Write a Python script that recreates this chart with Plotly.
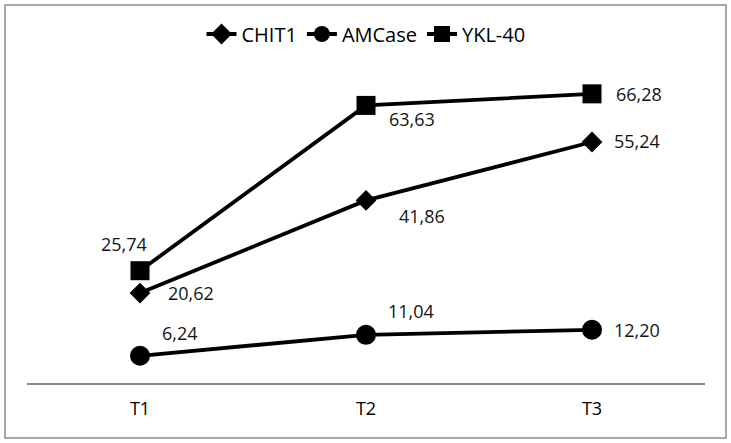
import plotly.graph_objects as go

categories = ["T1", "T2", "T3"]
chit1 = [20.62, 41.86, 55.24]
amcase = [6.24, 11.04, 12.20]
ykl40 = [25.74, 63.63, 66.28]

series_names = ["CHIT1", "AMCase", "YKL-40"]
series_values = [chit1, amcase, ykl40]

# styling (not data)
symbols = {"CHIT1": "diamond", "AMCase": "circle", "YKL-40": "square"}
msizes = {"CHIT1": 16, "AMCase": 20, "YKL-40": 19}
# label offsets: (xanchor, xshift, yshift)
label_offsets = {
    "CHIT1": [("left", 26, 0), ("left", 31, -16), ("left", 20, 1)],
    "AMCase": [("left", 20, 23), ("left", 20, 24), ("left", 20, 0)],
    "YKL-40": [("center", -16, 27), ("left", 21, -14), ("left", 22, 0)],
}

FONT = "Open Sans"
fig = go.Figure()
annotations = []
for name, vals in zip(series_names, series_values):
    fig.add_trace(go.Scatter(
        x=categories, y=vals, name=name, mode="lines+markers",
        line=dict(color="black", width=3.8),
        marker=dict(symbol=symbols[name], size=msizes[name], color="black"),
    ))
    for c, v, (xa, xs, ys) in zip(categories, vals, label_offsets[name]):
        annotations.append(dict(
            x=c, y=v, xref="x", yref="y", text=f"{v:.2f}".replace(".", ","),
            showarrow=False, xanchor=xa, yanchor="middle", xshift=xs, yshift=ys,
            font=dict(family=FONT, size=18, color="#141414"),
        ))

L, R, T, B = 27, 26, 34, 60
W, H = 731, 443
pw, ph = W - L - R, H - T - B
bx0 = (5 - L) / pw
bx1 = (726 - L) / pw
by1 = ((H - B) - 5) / ph
by0 = ((H - B) - 438) / ph

fig.update_layout(
    width=W, height=H,
    margin=dict(l=L, r=R, t=T, b=B),
    paper_bgcolor="white", plot_bgcolor="white",
    font=dict(family=FONT, size=18, color="black"),
    showlegend=True,
    legend=dict(orientation="h", x=0.5, xanchor="center", y=1.0, yanchor="middle",
                font=dict(family=FONT, size=20, color="black"),
                itemwidth=30, bgcolor="rgba(0,0,0,0)", tracegroupgap=0),
    xaxis=dict(type="category", range=[-0.5, 2.5], showgrid=False, zeroline=False,
               showline=True, linecolor="#888888", linewidth=1.5, ticks="",
               ticklabelstandoff=9,
               tickfont=dict(family=FONT, size=18, color="black"), fixedrange=True),
    yaxis=dict(range=[0, 80], showgrid=False, zeroline=False, showline=False,
               showticklabels=False, ticks="", fixedrange=True),
    annotations=annotations,
    shapes=[dict(type="rect", xref="paper", yref="paper", x0=bx0, x1=bx1, y0=by0, y1=by1,
                 line=dict(color="#8c8c8c", width=1.5), fillcolor="rgba(0,0,0,0)", layer="below")],
)

fig.write_html("out.html", config={"displayModeBar": False},
               post_script="document.body.style.margin='0';document.body.style.overflow='hidden';")
